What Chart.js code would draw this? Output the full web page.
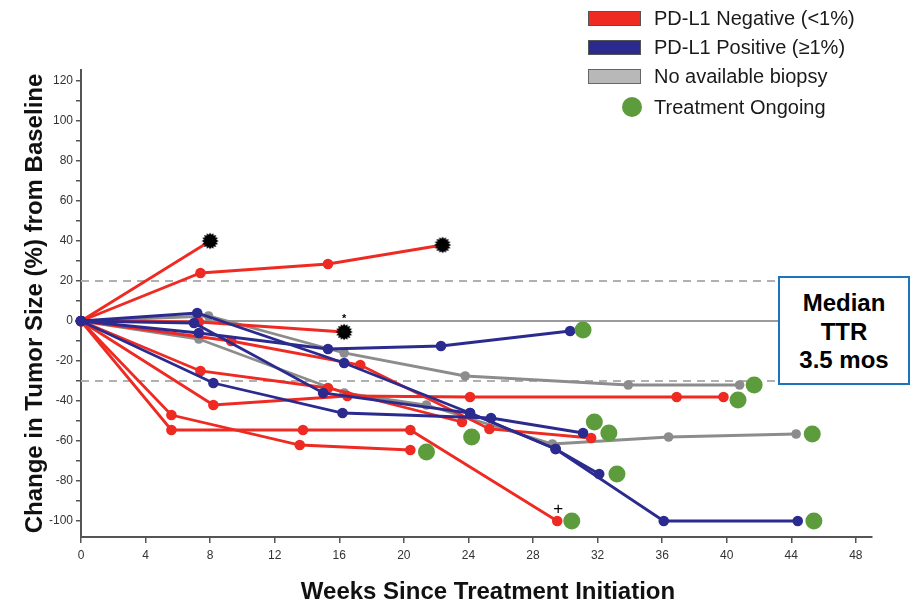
<!DOCTYPE html>
<html>
<head>
<meta charset="utf-8">
<script src="https://cdn.jsdelivr.net/npm/chart.js@4.4.1/dist/chart.umd.min.js"></script>
<style>
html,body{margin:0;padding:0;background:#fff;}
#wrap{position:relative;width:914px;height:604px;font-family:Arial,"Liberation Sans",sans-serif;overflow:hidden;}
#chart{position:absolute;left:0;top:0;}
.sw{position:absolute;left:588px;width:53px;height:15px;box-sizing:border-box;border:1px solid #555;}
.lt{position:absolute;left:654px;font-size:20px;line-height:22px;color:#1a1a1a;white-space:nowrap;}
.dot{position:absolute;width:20px;height:20px;border-radius:50%;}
#ttr{position:absolute;left:778px;top:276px;width:132px;height:109px;box-sizing:border-box;border:2px solid #1c75bc;background:#fff;
  text-align:center;font-weight:bold;font-size:24px;line-height:28.5px;color:#000;padding-top:11px;}
#xtitle{position:absolute;left:238px;width:500px;top:577px;text-align:center;font-weight:bold;font-size:24px;line-height:28px;color:#111;}
</style>
</head>
<body>
<div id="wrap">
  <canvas id="chart" width="914" height="604"></canvas>
  <div id="legend"></div>
  <div id="ttr">Median<br>TTR<br>3.5 mos</div>
  <div id="xtitle">Weeks Since Treatment Initiation</div>
</div>
<script>
// ---------- data ----------
const xAxisTitle = 'Weeks Since Treatment Initiation';
const yAxisTitle = 'Change in Tumor Size (%) from Baseline';
const weekTicks = [0,4,8,12,16,20,24,28,32,36,40,44,48];
const changeTicks = [-100,-90,-80,-70,-60,-50,-40,-30,-20,-10,0,10,20,30,40,50,60,70,80,90,100,110,120];
const changeLabelTicks = [-100,-80,-60,-40,-20,0,20,40,60,80,100,120];
const legendLabels = ['PD-L1 Negative (<1%)','PD-L1 Positive (\u22651%)','No available biopsy','Treatment Ongoing'];

// PD-L1 negative patients: [week, % change]
const neg1 = [[0,0],[8,40]];
const neg2 = [[0,0],[7.4,24],[15.3,28.5],[22.4,38]];
const neg3 = [[0,0],[7.3,-0.5],[16.3,-5.5]];
const neg4 = [[0,0],[9.3,-10],[17.3,-22],[25.3,-54],[31.6,-58.5]];
const neg5 = [[0,0],[7.4,-25],[15.3,-33.5],[23.6,-50.5]];
const neg6 = [[0,0],[8.2,-42],[16.5,-37.5],[24.1,-38],[36.9,-38],[39.8,-38]];
const neg7 = [[0,0],[5.6,-47],[13.55,-62],[20.4,-64.5]];
const neg8 = [[0,0],[5.6,-54.5],[13.75,-54.5],[20.4,-54.5],[29.5,-100]];
// PD-L1 positive patients
const pos1 = [[0,0],[7.3,-6],[15.3,-14],[22.3,-12.5],[30.3,-5]];
const pos2 = [[0,0],[8.2,-31],[16.2,-46],[25.4,-48.5],[31.1,-56]];
const pos3 = [[0,0],[7.2,4],[16.3,-21],[24.1,-46],[29.4,-64],[36.1,-100],[44.4,-100]];
const pos4 = [[0,0],[7,-1],[15,-36],[24.1,-46],[29.4,-64],[32.1,-76.5]];
// no available biopsy
const nob1 = [[0,0],[7.9,2.5],[16.3,-16],[23.8,-27.5],[33.9,-32],[40.8,-32]];
const nob2 = [[0,0],[7.3,-9],[16.3,-36],[21.4,-42],[29.2,-61.5],[36.4,-58],[44.3,-56.5]];
// treatment ongoing markers
const ongoing = [[31.1,-4.5],[41.7,-32],[40.7,-39.5],[31.8,-50.5],[32.7,-56],[24.2,-58],[21.4,-65.5],[33.2,-76.5],[30.4,-100],[45.4,-100],[45.3,-56.5]];
// progression (black starburst) markers
const progression = [[8,40],[22.4,38],[16.3,-5.5]];
// footnote symbols
const footnoteWeeks = [16.3, 29.5];
const footnoteValues = [-5.5, -100];
const footnoteTexts = ['*', '+'];
// reference levels
const dashedLevels = [20, -30];
const baselineLevel = 0;

const negativePatients = [neg1,neg2,neg3,neg4,neg5,neg6,neg7,neg8];
const positivePatients = [pos1,pos2,pos3,pos4];
const noBiopsyPatients = [nob1,nob2];

// ---------- styles ----------
const RED = '#ee2a22', BLUE = '#2b2b8f', GRAY = '#8c8c8c', GREEN = '#5c9c3c';

// legend
(function(){
  const lg = document.getElementById('legend');
  const swColors = [RED, BLUE, '#b8b8b8'];
  const swTops = [11, 40, 69];
  const textCenters = [18, 47, 76, 107];
  swColors.forEach((c,i)=>{
    const s = document.createElement('div'); s.className='sw';
    s.style.top = swTops[i]+'px'; s.style.background = c;
    if (i===2) s.style.borderColor = '#666';
    lg.appendChild(s);
  });
  const d = document.createElement('div'); d.className='dot';
  d.style.left='622px'; d.style.top='97px'; d.style.background=GREEN; lg.appendChild(d);
  legendLabels.forEach((t,i)=>{
    const e = document.createElement('div'); e.className='lt';
    e.textContent = t; e.style.top = (textCenters[i]-11)+'px';
    lg.appendChild(e);
  });
})();

function starImage(){
  const c = document.createElement('canvas'); c.width = 18; c.height = 18;
  const g = c.getContext('2d'); g.fillStyle = '#000'; g.beginPath();
  const n = 16, ro = 8.5, ri = 6.3;
  for (let i=0;i<2*n;i++){ const r = i%2 ? ri : ro; const a = i*Math.PI/n; g.lineTo(9+r*Math.cos(a), 9+r*Math.sin(a)); }
  g.closePath(); g.fill(); return c;
}
const STAR = starImage();

const toXY = arr => arr.map(([x,y]) => ({x, y}));
const isProg = p => progression.some(([x,y]) => x===p.x && y===p.y);

function lineDs(pts, color, radius, order){
  return {
    data: toXY(pts), showLine: true, borderColor: color, backgroundColor: color,
    borderWidth: 2.8, pointBorderWidth: 0, tension: 0,
    pointRadius: ctx => (ctx.raw && isProg(ctx.raw)) ? 0 : radius,
    pointHoverRadius: 0, clip: false, order
  };
}

const datasets = [];
datasets.push({ data: toXY(ongoing), backgroundColor: GREEN, borderWidth: 0, pointRadius: 8.5, showLine:false, clip:false, order: 0 });
datasets.push({ data: toXY(progression), pointStyle: STAR, pointRadius: 9, showLine:false, clip:false, order: 1 });
positivePatients.forEach(p => datasets.push(lineDs(p, BLUE, 5.3, 2)));
negativePatients.forEach(p => datasets.push(lineDs(p, RED, 5.3, 3)));
noBiopsyPatients.forEach(p => datasets.push(lineDs(p, GRAY, 4.8, 4)));
dashedLevels.forEach(v => datasets.push({ data: [{x:0,y:v},{x:49,y:v}], showLine:true, borderColor:'#b0b0b0', borderWidth:2, borderDash:[8,6], pointRadius:0, order: 10 }));
datasets.push({ data: [{x:0,y:baselineLevel},{x:49,y:baselineLevel}], showLine:true, borderColor:'#7a7a7a', borderWidth:1.6, pointRadius:0, order: 10 });

const footnotePlugin = {
  id: 'footnotes',
  afterDatasetsDraw(chart){
    const {ctx, scales:{x, y}} = chart;
    ctx.save(); ctx.fillStyle = '#000'; ctx.textAlign = 'center'; ctx.textBaseline = 'middle';
    footnoteTexts.forEach((t,i)=>{
      const px = x.getPixelForValue(footnoteWeeks[i]);
      const py = y.getPixelForValue(footnoteValues[i]);
      if (t === '*') { ctx.font = 'bold 11px Arial'; ctx.fillText(t, px, py - 13); }
      else { ctx.font = '17px Arial'; ctx.fillText(t, px + 1, py - 12); }
    });
    ctx.restore();
  }
};

new Chart(document.getElementById('chart'), {
  type: 'scatter',
  data: { datasets },
  plugins: [footnotePlugin],
  options: {
    responsive: false, animation: false, devicePixelRatio: 1,
    layout: { padding: { top: 70, right: 42, left: 0, bottom: 0 } },
    plugins: { legend: { display: false }, tooltip: { enabled: false } },
    events: [],
    scales: {
      x: {
        type: 'linear', min: 0, max: 49,
        afterBuildTicks: s => { s.ticks = weekTicks.map(v => ({ value: v })); },
        afterFit: s => { s.height = 67; },
        grid: { drawOnChartArea: false, drawTicks: true, tickLength: 6, color: '#555', lineWidth: 1.5 },
        border: { display: true, color: '#555', width: 2 },
        ticks: { font: { size: 12, family: 'Arial' }, color: '#333', padding: 5, maxRotation: 0, autoSkip: false }
      },
      y: {
        type: 'linear', min: -108, max: 125.5,
        afterBuildTicks: s => { s.ticks = changeTicks.map(v => ({ value: v })); },
        afterFit: s => { s.width = 81; },
        grid: { drawOnChartArea: false, drawTicks: true, tickLength: 5, color: '#555', lineWidth: 1.5 },
        border: { display: true, color: '#555', width: 2 },
        ticks: { font: { size: 12, family: 'Arial' }, color: '#333', padding: 3, autoSkip: false,
          callback: v => changeLabelTicks.includes(v) ? String(v) : '' },
        title: { display: true, text: yAxisTitle, font: { size: 24, weight: 'bold', family: 'Arial' }, color: '#111', padding: { top: 21, bottom: 0 } }
      }
    }
  }
});
</script>
</body>
</html>
